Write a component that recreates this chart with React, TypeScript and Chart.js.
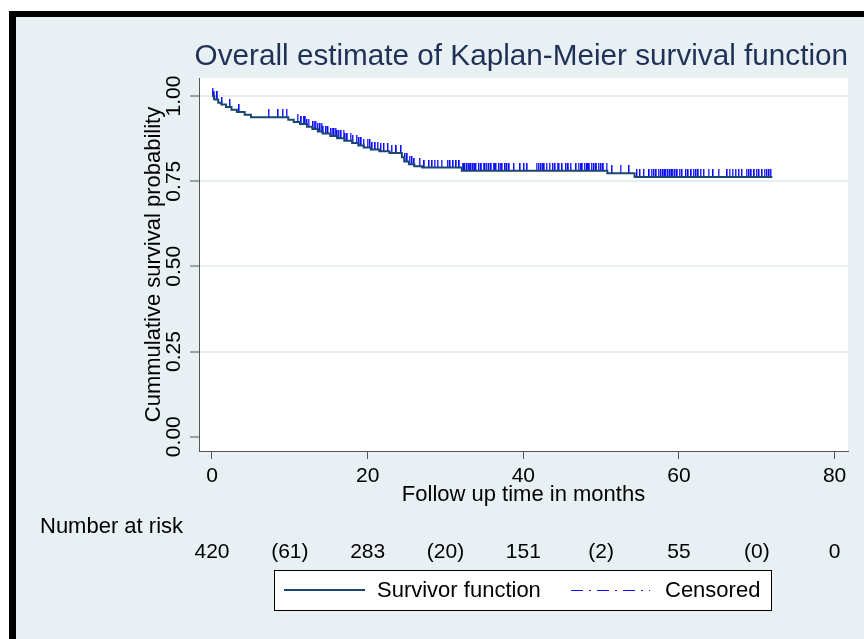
import React, { useEffect, useRef } from 'react';
import { Chart, registerables } from 'chart.js';

Chart.register(...registerables);

const FONT = '"Liberation Sans", Arial, Helvetica, sans-serif';
const TITLE = 'Overall estimate of Kaplan-Meier survival function';
const X_TITLE = 'Follow up time in months';
const Y_TITLE = 'Cummulative survival probability';
const RISK_HEADER = 'Number at risk';

// Kaplan-Meier step function: survival after each event time
const eventTimes = [0, 0.3, 0.8, 1.2, 1.8, 2.5, 3.2, 4.2, 5.0, 9.8, 10.5, 11.3, 12.2, 12.9, 13.6, 14.2, 15.2, 16.1, 17.0, 18.0, 18.8, 19.5, 20.4, 21.5, 22.8, 24.4, 24.7, 25.3, 26.0, 27.0, 32.1, 50.8, 54.3];
const survival = [1.0, 0.99, 0.98, 0.975, 0.968, 0.96, 0.953, 0.945, 0.938, 0.93, 0.924, 0.918, 0.91, 0.903, 0.896, 0.89, 0.883, 0.876, 0.869, 0.862, 0.855, 0.849, 0.843, 0.838, 0.833, 0.82, 0.808, 0.8, 0.794, 0.79, 0.781, 0.773, 0.762];
const followUpEnd = 72;

// censored observation times (months)
const censorTimes = [
  0.1, 0.3, 0.7, 1.3, 2.3, 3.5, 7.3, 8.5, 9.1, 9.6,
  11.0, 11.5, 11.8, 12.0, 12.2, 12.4, 13.0, 13.2, 13.3, 13.6, 13.9, 14.1, 14.3, 14.7, 14.9,
  15.3, 15.5, 15.7, 15.9, 16.1, 16.3, 16.6, 16.9, 17.1, 17.4, 17.8, 18.1,
  18.6, 18.9, 19.2, 19.5, 20.0, 20.3, 20.6, 21.0, 21.3, 21.7, 22.1, 22.6, 23.1, 23.7,
  24.3, 24.8, 25.1, 25.4, 25.7, 26.0, 26.7, 27.3, 27.9, 28.3, 28.6, 29.0, 29.5,
  30.3, 30.6, 31.0, 31.4, 31.8, 32.2, 32.4, 32.5, 32.8, 33.0, 33.1, 33.3, 33.6, 33.8, 33.9, 34.3, 34.5, 34.6, 34.9, 35.1, 35.3, 35.6, 35.9, 36.2, 36.4, 36.5,
  36.9, 37.1, 37.3, 37.7, 37.9, 38.2, 38.8, 39.6, 40.1, 40.5,
  41.7, 42.0, 42.3, 42.5, 42.7, 43.0, 43.4, 43.8, 44.1, 44.4, 44.6, 45.0, 45.5, 45.8, 46.1,
  46.8, 47.1, 47.4, 47.6, 47.9, 48.2, 48.3, 48.5, 48.8, 49.1, 49.3, 49.4, 49.7, 50.0, 50.3, 50.7,
  51.4, 52.5, 53.6, 54.6, 55.0, 55.5,
  56.2, 56.5, 56.8, 57.1, 57.4, 57.7, 58.0, 58.2, 58.3, 58.6, 58.9, 59.1, 59.2, 59.5, 59.8, 60.1, 60.4,
  60.9, 61.2, 61.6, 61.9, 62.2, 62.5, 62.8, 63.2, 63.8, 64.4, 65.1,
  66.2, 66.5, 66.9, 67.3, 67.7, 68.1,
  68.7, 69.0, 69.3, 69.7, 70.0, 70.3, 70.7, 71.0, 71.3, 71.6, 71.8,
];

const xTicks = [0, 20, 40, 60, 80];
const yTicks = [0, 0.25, 0.5, 0.75, 1];
const riskTimes = [0, 10, 20, 30, 40, 50, 60, 70, 80];
const riskLabels = ['420', '(61)', '283', '(20)', '151', '(2)', '55', '(0)', '0'];
const legendLabels = ['Survivor function', 'Censored'];

const X_MIN = -1.67;
const X_MAX = 81.72;
const Y_MIN = -0.042;
const Y_MAX = 1.0528;

const BG = '#e9f0f3';
const GRID = '#e6eef1';
const AXIS = '#555555';
const LINE = '#1a476f';
const CENSOR = '#0c0cff';
const TITLE_COLOR = '#1f3157';

function survivalAt(t: number): number {
  let s = survival[0];
  for (let i = 0; i < eventTimes.length; i++) {
    if (eventTimes[i] <= t) s = survival[i];
  }
  return s;
}

const decorPlugin = {
  id: 'decor',
  beforeDraw(chart: any) {
    const { ctx, width, height, chartArea } = chart;
    ctx.save();
    ctx.fillStyle = '#ffffff';
    ctx.fillRect(0, 0, width, height);
    ctx.fillStyle = '#000000';
    ctx.fillRect(9, 11, width - 9, height - 11);
    ctx.fillStyle = BG;
    ctx.fillRect(16, 17, width - 16, height - 17);
    ctx.fillStyle = '#ffffff';
    ctx.fillRect(chartArea.left, chartArea.top, chartArea.right - chartArea.left, chartArea.bottom - chartArea.top);
    ctx.restore();
  },
  afterDraw(chart: any) {
    const { ctx } = chart;
    const xs = chart.scales.x;
    ctx.save();
    // number at risk
    ctx.fillStyle = '#000000';
    ctx.font = `22px ${FONT}`;
    ctx.textAlign = 'left';
    ctx.textBaseline = 'alphabetic';
    ctx.fillText(RISK_HEADER, 40, 533);
    ctx.font = `21px ${FONT}`;
    ctx.textAlign = 'center';
    riskTimes.forEach((t, i) => {
      ctx.fillText(riskLabels[i], xs.getPixelForValue(t), 558);
    });
    // legend box
    ctx.fillStyle = '#ffffff';
    ctx.fillRect(274.5, 570.5, 497, 40);
    ctx.strokeStyle = '#000000';
    ctx.lineWidth = 1;
    ctx.strokeRect(274.5, 570.5, 497, 40);
    // survivor sample
    ctx.strokeStyle = LINE;
    ctx.lineWidth = 2;
    ctx.beginPath();
    ctx.moveTo(284, 590);
    ctx.lineTo(365, 590);
    ctx.stroke();
    // censored sample
    ctx.strokeStyle = CENSOR;
    ctx.lineWidth = 1;
    ctx.setLineDash([12, 6, 2, 6]);
    ctx.beginPath();
    ctx.moveTo(571, 590.5);
    ctx.lineTo(650, 590.5);
    ctx.stroke();
    ctx.setLineDash([]);
    ctx.fillStyle = '#000000';
    ctx.font = `22px ${FONT}`;
    ctx.textAlign = 'left';
    ctx.textBaseline = 'middle';
    ctx.fillText(legendLabels[0], 377, 591);
    ctx.fillText(legendLabels[1], 665, 591);
    ctx.restore();
  },
};

export default function App() {
  const ref = useRef<HTMLCanvasElement | null>(null);

  useEffect(() => {
    document.body.style.margin = '0';
    const canvas = ref.current;
    if (!canvas) return;

    const tickImg = document.createElement('canvas');
    tickImg.width = 2;
    tickImg.height = 16;
    const tctx = tickImg.getContext('2d');
    if (tctx) {
      tctx.fillStyle = CENSOR;
      tctx.fillRect(0, 0, 1, 8);
      tctx.globalAlpha = 0.45;
      tctx.fillRect(1, 0, 1, 8);
    }

    const linePts = eventTimes.map((t, i) => ({ x: t, y: survival[i] }));
    linePts.push({ x: followUpEnd, y: survival[survival.length - 1] });
    const censorPts = censorTimes.map((t) => ({ x: t, y: survivalAt(t) }));

    const chart = new Chart(canvas, {
      type: 'scatter',
      data: {
        datasets: [
          {
            label: legendLabels[0],
            data: linePts,
            showLine: true,
            stepped: true,
            borderColor: LINE,
            backgroundColor: LINE,
            borderWidth: 2,
            pointRadius: 0,
            fill: false,
          } as any,
          {
            label: legendLabels[1],
            data: censorPts,
            showLine: false,
            pointStyle: tickImg,
            pointRadius: 4,
            borderColor: CENSOR,
            backgroundColor: CENSOR,
          } as any,
        ],
      },
      options: {
        animation: false,
        responsive: false,
        maintainAspectRatio: false,
        devicePixelRatio: 1,
        events: [],
        layout: { padding: { top: 17, right: 16, left: 0, bottom: 0 } },
        plugins: {
          legend: { display: false },
          tooltip: { enabled: false },
          title: {
            display: true,
            text: TITLE,
            align: 'end',
            color: TITLE_COLOR,
            font: { size: 29.7, family: FONT, weight: 'normal' },
            padding: { top: 22, bottom: 3.4 },
          },
        },
        scales: {
          x: {
            type: 'linear',
            min: X_MIN,
            max: X_MAX,
            afterFit: (s: any) => { s.height = 188; },
            afterBuildTicks: (s: any) => { s.ticks = xTicks.map((v) => ({ value: v })); },
            grid: { drawOnChartArea: false, drawTicks: true, tickLength: 8, tickColor: AXIS, tickWidth: 1 },
            border: { display: true, color: AXIS, width: 1 },
            ticks: {
              color: '#000000',
              font: { size: 21, family: FONT },
              padding: 5,
              maxRotation: 0,
              autoSkip: false,
              callback: (v: any) => String(v),
            },
            title: {
              display: true,
              text: X_TITLE,
              color: '#000000',
              font: { size: 22, family: FONT },
              padding: { top: 0, bottom: 130.4 },
            },
          },
          y: {
            type: 'linear',
            min: Y_MIN,
            max: Y_MAX,
            afterFit: (s: any) => { s.width = 199; },
            afterBuildTicks: (s: any) => { s.ticks = yTicks.map((v) => ({ value: v })); },
            grid: {
              color: (c: any) => (c.tick && c.tick.value === 0 ? 'rgba(0,0,0,0)' : GRID),
              lineWidth: 2,
              drawTicks: true,
              tickLength: 9,
              tickColor: AXIS,
              tickWidth: 1,
            },
            border: { display: true, color: AXIS, width: 1 },
            ticks: {
              color: '#000000',
              font: { size: 21, family: FONT },
              minRotation: 90,
              maxRotation: 90,
              crossAlign: 'center',
              padding: -4.95,
              autoSkip: false,
              callback: (v: any) => Number(v).toFixed(2),
            },
            title: {
              display: true,
              text: Y_TITLE,
              color: '#000000',
              font: { size: 22, family: FONT },
              padding: { top: 141.2, bottom: 0 },
            },
          },
        },
      } as any,
      plugins: [decorPlugin],
    });

    return () => chart.destroy();
  }, []);

  return (
    <div style={{ position: 'absolute', left: 0, top: 0, width: 864, height: 639 }}>
      <canvas ref={ref} width={864} height={639} style={{ display: 'block' }} />
    </div>
  );
}
